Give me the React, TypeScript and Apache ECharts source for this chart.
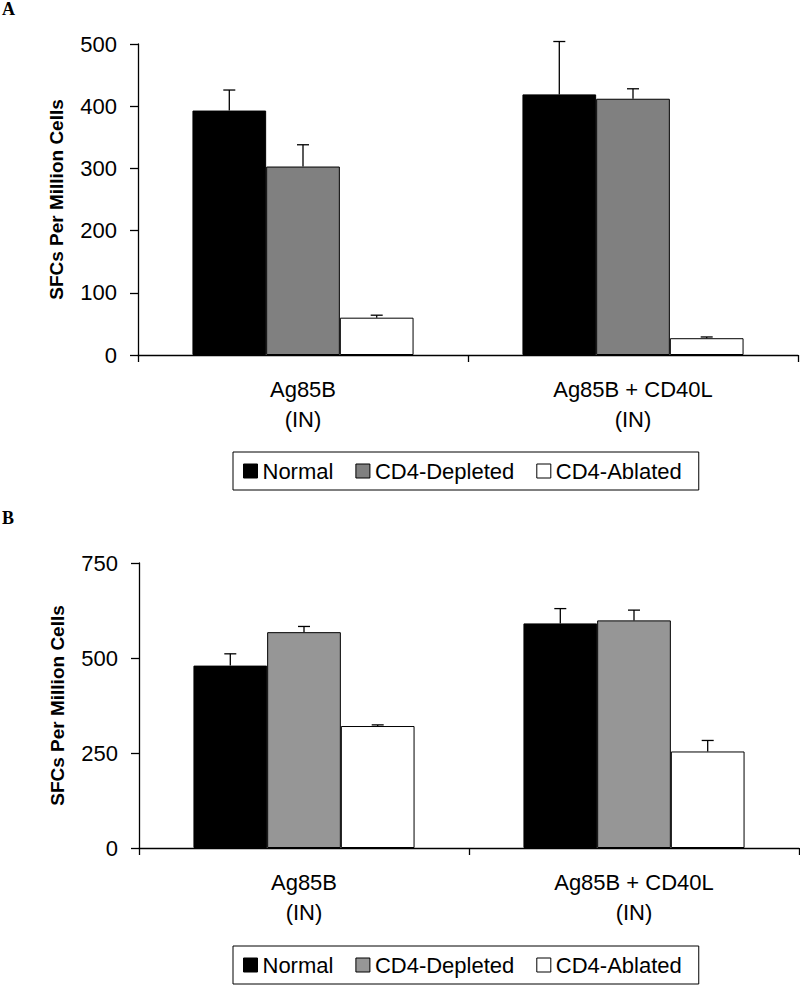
import React, { useEffect, useRef } from "react";
import * as echarts from "echarts";

const categories = ["Ag85B\n(IN)", "Ag85B + CD40L\n(IN)"];
const seriesNames = ["Normal", "CD4-Depleted", "CD4-Ablated"];

// Panel A
const normalA = [393, 419];
const depletedA = [303, 412];
const ablatedA = [60, 27];
const normalAErr = [33, 85];
const depletedAErr = [35, 16];
const ablatedAErr = [4, 2];
const yMaxA = 500;
const yIntervalA = 100;

// Panel B
const normalB = [480, 591];
const depletedB = [568, 599];
const ablatedB = [321, 254];
const normalBErr = [31, 39];
const depletedBErr = [15, 27];
const ablatedBErr = [3, 29];
const yMaxB = 750;
const yIntervalB = 250;

const colorsA = ["#000000", "#808080", "#ffffff"];
const colorsB = ["#000000", "#969696", "#ffffff"];

const FONT = "'Liberation Sans', Arial, sans-serif";
const CAT_GAP = 0.33;

function errData(vals: number[][], errs: number[][]) {
  const out: number[][] = [];
  vals.forEach((arr, k) => {
    arr.forEach((v, c) => {
      out.push([c, k, v, errs[k][c]]);
    });
  });
  return out;
}

const renderErr = (params: any, api: any) => {
  const cat = api.value(0);
  const k = api.value(1);
  const v = api.value(2);
  const e = api.value(3);
  const band = api.size([1, 0])[0];
  const bw = (band * (1 - CAT_GAP)) / 3;
  const base = api.coord([cat, v]);
  const top = api.coord([cat, v + e]);
  const x = base[0] + (k - 1) * bw;
  const st = { stroke: "#000", lineWidth: 1.3 };
  return {
    type: "group",
    children: [
      { type: "line", shape: { x1: x, y1: base[1], x2: x, y2: top[1] }, style: st },
      { type: "line", shape: { x1: x - 6, y1: top[1], x2: x + 6, y2: top[1] }, style: st },
    ],
  };
};

function xAxisDef(gridIndex: number) {
  return {
    type: "category",
    gridIndex,
    data: categories,
    axisLine: { lineStyle: { color: "#000", width: 1.3 } },
    axisTick: { show: true, length: 7, lineStyle: { color: "#000", width: 1.3 } },
    axisLabel: {
      color: "#000",
      fontFamily: FONT,
      fontSize: 22,
      lineHeight: 30,
      margin: 19,
    },
    splitLine: { show: false },
  };
}

function yAxisDef(gridIndex: number, max: number, interval: number) {
  return {
    type: "value",
    gridIndex,
    min: 0,
    max,
    interval,
    name: "SFCs Per Million Cells",
    nameLocation: "middle",
    nameGap: 72,
    nameRotate: 90,
    nameTextStyle: { color: "#000", fontFamily: FONT, fontSize: 19, fontWeight: "bold" },
    axisLine: { show: true, lineStyle: { color: "#000", width: 1.3 } },
    axisTick: { show: true, length: 8, lineStyle: { color: "#000", width: 1.3 } },
    axisLabel: { color: "#000", fontFamily: FONT, fontSize: 22, margin: 21 },
    splitLine: { show: false },
  };
}

function barSeries(name: string, data: number[], color: string, axisIndex: number) {
  return {
    type: "bar",
    name,
    xAxisIndex: axisIndex,
    yAxisIndex: axisIndex,
    data,
    barGap: "0%",
    barCategoryGap: CAT_GAP * 100 + "%",
    itemStyle: { color, borderColor: "#000", borderWidth: 1 },
    z: 2,
  };
}

function legendDef(top: number, colors: string[]) {
  return {
    left: 233,
    top,
    orient: "horizontal",
    selectedMode: false,
    icon: "rect",
    itemWidth: 14,
    itemHeight: 14,
    itemGap: 22,
    padding: [8, 17, 8, 10],
    borderColor: "#000",
    borderWidth: 1,
    borderRadius: 0,
    backgroundColor: "#fff",
    itemStyle: { borderColor: "#000", borderWidth: 1 },
    textStyle: { color: "#000", fontFamily: FONT, fontSize: 22 },
    data: seriesNames.map((n, i) => ({
      name: n,
      itemStyle: { color: colors[i], borderColor: "#000", borderWidth: 1 },
    })),
  };
}

export default function App() {
  const ref = useRef<HTMLDivElement>(null);
  useEffect(() => {
    document.body.style.margin = "0";
    const chart = echarts.init(ref.current!, null, { renderer: "svg" });
    const option: any = {
      animation: false,
      backgroundColor: "#fff",
      title: [
        {
          text: "A",
          left: 2,
          top: 0,
          padding: 0,
          textStyle: { fontFamily: "'Liberation Serif', 'Times New Roman', serif", fontSize: 18, fontWeight: "bold", color: "#000" },
        },
        {
          text: "B",
          left: 2,
          top: 509,
          padding: 0,
          textStyle: { fontFamily: "'Liberation Serif', 'Times New Roman', serif", fontSize: 18, fontWeight: "bold", color: "#000" },
        },
      ],
      legend: [legendDef(452, colorsA), legendDef(946, colorsB)],
      grid: [
        { left: 138, width: 660, top: 44, height: 311 },
        { left: 139, width: 660, top: 563, height: 285 },
      ],
      xAxis: [xAxisDef(0), xAxisDef(1)],
      yAxis: [yAxisDef(0, yMaxA, yIntervalA), yAxisDef(1, yMaxB, yIntervalB)],
      series: [
        barSeries(seriesNames[0], normalA, colorsA[0], 0),
        barSeries(seriesNames[1], depletedA, colorsA[1], 0),
        barSeries(seriesNames[2], ablatedA, colorsA[2], 0),
        barSeries(seriesNames[0], normalB, colorsB[0], 1),
        barSeries(seriesNames[1], depletedB, colorsB[1], 1),
        barSeries(seriesNames[2], ablatedB, colorsB[2], 1),
        {
          type: "custom",
          name: "errA",
          xAxisIndex: 0,
          yAxisIndex: 0,
          renderItem: renderErr,
          encode: { x: 0, y: 2 },
          data: errData([normalA, depletedA, ablatedA], [normalAErr, depletedAErr, ablatedAErr]),
          z: 5,
        },
        {
          type: "custom",
          name: "errB",
          xAxisIndex: 1,
          yAxisIndex: 1,
          renderItem: renderErr,
          encode: { x: 0, y: 2 },
          data: errData([normalB, depletedB, ablatedB], [normalBErr, depletedBErr, ablatedBErr]),
          z: 5,
        },
      ],
    };
    chart.setOption(option);
    return () => chart.dispose();
  }, []);
  return <div ref={ref} style={{ width: 800, height: 985 }} />;
}
